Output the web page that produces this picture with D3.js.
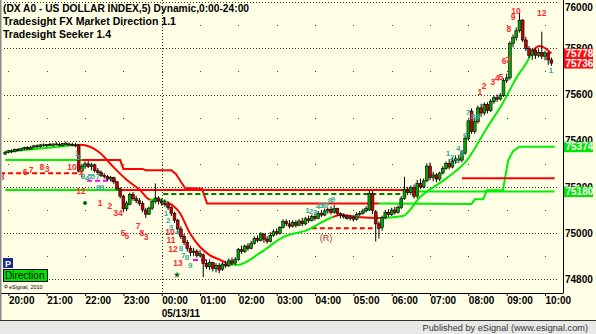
<!DOCTYPE html>
<html>
<head>
<meta charset="utf-8">
<script src="https://cdn.jsdelivr.net/npm/d3@7"></script>
<style>
  body { margin: 0; background: #ffffe6; }
  svg { display: block; font-family: "Liberation Sans", Arial, sans-serif; }
</style>
</head>
<body>
<script>
// ---- data (DX A0, 5 min bars from 19:55) ----
const startTime = new Date(2011, 4, 12, 19, 55);
const endTime = new Date(2011, 4, 13, 10, 10);

const titleLines = [
  '(DX A0 - US DOLLAR INDEX,5) Dynamic,0:00-24:00',
  'Tradesight FX Market Direction 1.1',
  'Tradesight Seeker 1.4'
];

const opens = [
  75342, 75350, 75356, 75352, 75362, 75358, 75366, 75370, 75364, 75372, 75378, 75374,
  75382, 75378, 75384, 75380, 75386, 75384, 75380, 75388, 75386, 75384, 75382, 75378,
  75268, 75290, 75300, 75288, 75296, 75270, 75262, 75250, 75246, 75234, 75240, 75222,
  75192, 75160, 75105, 75125, 75168, 75150, 75140, 75128, 75100, 75082, 75108, 75136,
  75152, 75138, 75130, 75124, 75110, 75086, 75056, 75018, 74986, 74960, 74934, 74916,
  74922, 74904, 74906, 74868, 74854, 74872, 74846, 74860, 74844, 74866, 74858, 74880,
  74870, 74886, 74930, 74920, 74944, 74934, 74956, 74976, 74968, 74996, 74974, 74964,
  74990, 75006, 74998, 75024, 75050, 75040, 75030, 75046, 75034, 75052, 75040, 75062,
  75054, 75072, 75064, 75086, 75078, 75096, 75102, 75090, 75106, 75084, 75076, 75070,
  75064, 75068, 75060, 75082, 75086, 75096, 75100, 75172, 75092, 75040, 75024, 75068,
  75090, 75080, 75100, 75090, 75110, 75150, 75190, 75176, 75196, 75160, 75214, 75200,
  75226, 75290, 75240, 75252, 75234, 75260, 75280, 75302, 75286, 75312, 75322, 75316,
  75346, 75410, 75528, 75440, 75482, 75542, 75520, 75556, 75530, 75570, 75586, 75580,
  75596, 75660, 75672, 75820, 75846, 75876, 75922, 75836, 75800, 75770, 75792, 75770,
  75782, 75766, 75780, 75750
];
const highs = [
  75355, 75360, 75362, 75366, 75368, 75370, 75374, 75376, 75378, 75382, 75384, 75386,
  75388, 75386, 75390, 75388, 75394, 75392, 75390, 75396, 75392, 75392, 75390, 75386,
  75300, 75310, 75312, 75305, 75300, 75282, 75272, 75260, 75252, 75248, 75244, 75226,
  75198, 75166, 75140, 75175, 75178, 75162, 75152, 75138, 75110, 75115, 75142, 75215,
  75160, 75150, 75146, 75136, 75116, 75092, 75062, 75030, 74996, 74970, 74946, 74936,
  74930, 74926, 74912, 74886, 74880, 74876, 74870, 74870, 74876, 74880, 74890, 74894,
  74896, 74936, 74946, 74950, 74956, 74966, 74986, 74990, 75004, 75000, 74986, 75004,
  75016, 75020, 75030, 75060, 75060, 75056, 75056, 75056, 75060, 75066, 75070, 75076,
  75080, 75086, 75096, 75100, 75106, 75110, 75116, 75122, 75110, 75090, 75086, 75080,
  75078, 75076, 75090, 75096, 75106, 75116, 75186, 75182, 75100, 75050, 75076, 75100,
  75104, 75110, 75114, 75120, 75160, 75244, 75200, 75206, 75210, 75230, 75236, 75236,
  75302, 75306, 75266, 75260, 75266, 75290, 75310, 75320, 75330, 75336, 75340, 75360,
  75420, 75492, 75540, 75500, 75552, 75560, 75566, 75566, 75580, 75596, 75600, 75606,
  75670, 75690, 75830, 75860, 75890, 75956, 75926, 75850, 75810, 75800, 75800, 75796,
  75872, 75790, 75786, 75760
];
const lows = [
  75338, 75345, 75346, 75350, 75354, 75355, 75360, 75360, 75362, 75368, 75368, 75370,
  75374, 75372, 75376, 75374, 75380, 75376, 75374, 75382, 75378, 75376, 75372, 75262,
  75240, 75278, 75282, 75272, 75262, 75252, 75242, 75236, 75226, 75224, 75212, 75185,
  75150, 75090, 75095, 75120, 75140, 75130, 75118, 75090, 75065, 75078, 75100, 75128,
  75124, 75118, 75114, 75100, 75074, 75044, 75000, 74974, 74948, 74920, 74900, 74900,
  74894, 74894, 74810, 74844, 74840, 74834, 74830, 74826, 74836, 74850, 74854, 74860,
  74862, 74880, 74910, 74914, 74924, 74930, 74950, 74960, 74964, 74958, 74954, 74960,
  74984, 74990, 74994, 75020, 75030, 75020, 75024, 75024, 75030, 75030, 75034, 75044,
  75050, 75054, 75060, 75070, 75074, 75084, 75080, 75084, 75074, 75064, 75062, 75058,
  75054, 75050, 75054, 75074, 75080, 75090, 75096, 75082, 74964, 74976, 75010, 75060,
  75070, 75074, 75080, 75084, 75104, 75144, 75164, 75166, 75150, 75150, 75190, 75194,
  75220, 75230, 75224, 75220, 75226, 75254, 75274, 75276, 75280, 75300, 75304, 75306,
  75340, 75400, 75430, 75430, 75474, 75504, 75510, 75518, 75524, 75560, 75568, 75574,
  75590, 75650, 75664, 75804, 75834, 75868, 75828, 75788, 75758, 75750, 75754, 75760,
  75754, 75748, 75728, 75724
];
const closes = [
  75350, 75356, 75352, 75362, 75358, 75366, 75370, 75364, 75372, 75378, 75374, 75382,
  75378, 75384, 75380, 75386, 75384, 75380, 75388, 75386, 75384, 75382, 75378, 75268,
  75290, 75300, 75288, 75296, 75270, 75262, 75250, 75246, 75234, 75240, 75222, 75192,
  75160, 75105, 75130, 75168, 75150, 75140, 75128, 75100, 75082, 75108, 75136, 75152,
  75138, 75130, 75124, 75110, 75086, 75056, 75018, 74986, 74960, 74934, 74916, 74922,
  74904, 74912, 74868, 74854, 74872, 74846, 74860, 74840, 74866, 74858, 74880, 74870,
  74886, 74930, 74920, 74944, 74934, 74956, 74976, 74968, 74996, 74974, 74964, 74990,
  75006, 74998, 75024, 75050, 75040, 75030, 75046, 75034, 75052, 75040, 75062, 75054,
  75072, 75064, 75086, 75078, 75096, 75102, 75090, 75106, 75084, 75076, 75070, 75064,
  75068, 75060, 75082, 75086, 75096, 75106, 75172, 75098, 75040, 75020, 75068, 75090,
  75080, 75100, 75090, 75110, 75150, 75190, 75176, 75196, 75160, 75214, 75200, 75226,
  75290, 75240, 75252, 75234, 75260, 75280, 75302, 75286, 75312, 75322, 75316, 75352,
  75410, 75486, 75440, 75482, 75542, 75520, 75556, 75530, 75570, 75586, 75580, 75596,
  75660, 75672, 75820, 75846, 75876, 75922, 75836, 75800, 75770, 75792, 75770, 75782,
  75766, 75780, 75750, 75736
];

// Market Direction average: bar index, value, 1 = up (green) for the stretch that follows
const maBar = [0, 11, 22.5, 23.5, 29.7, 33.8, 38.1, 42.2, 45.3, 48.5, 50.7, 54.7, 57.8, 61, 64, 67.3,
  69.4, 72.6, 79.8, 87, 94.5, 102.6, 105, 110, 117.3, 124.5, 129.9, 138.3, 144.6, 150.8, 155.8,
  160.2, 163.7, 164.6, 167.4, 171];
const maVal = [75352, 75366, 75381, 75382, 75347, 75287, 75230, 75187, 75145, 75143, 75134, 75087,
  75000, 74940, 74905, 74884, 74871, 74862, 74914, 74983, 75013, 75070, 75078, 75070, 75065, 75074,
  75156, 75239, 75316, 75455, 75563, 75676, 75749, 75775, 75810, 75778];
const maUp = [1, 1, 0, 0, 0, 0, 0, 0, 1, 1, 0, 0, 0, 0, 0, 0, 1, 1, 1, 1, 1, 0, 0, 0, 1, 1, 1, 1, 1, 1, 1,
  1, 1, 0, 0, 0];

// Seeker stops: [bar, value, state of the stretch that follows]
const upperStop = [
  [0, 75316, 'g'], [24, 75316, 'r'], [36, 75316, 'r'], [37, 75278, 'r'], [43, 75278, 'r'],
  [44, 75272, 'r'], [52, 75272, 'r'], [53.5, 75255, 'r'], [55, 75222, 'r'], [56.3, 75195, 'r'],
  [61.6, 75192, 'r'], [63.2, 75128, 'r'], [117, 75128, 'g'], [146, 75126, 'g'], [147, 75146, 'g'],
  [149.6, 75146, 'g'], [150.8, 75185, 'g'], [155.8, 75185, 'g'], [157.5, 75316, 'g'],
  [159, 75355, 'g'], [161, 75374, 'g'], [172, 75374, 'g']
];
const lowerStop = [
  [0, 75187, 'g'], [36, 75187, 'r'], [125, 75187, 'g'], [125, 75180, 'g'], [172, 75180, 'g']
];
const redLevels = [[143, 172, 75237]];
const dashGreen = [[49.5, 124.5, 75169]];
const dashRed = [[-1.6, 23.4, 75259], [96, 115, 75021]];
const dashMagenta = [[25.6, 35, 75227], [58.8, 64.2, 74884]];

// count labels: [text, bar, value]
const redCounts = [
  ['3', -1, 75243], ['6', 6.2, 75265], ['7', 8.1, 75275], ['8', 11.5, 75286], ['3', 13.1, 75277],
  ['10', 20.9, 75286], ['1', 23.7, 75265], ['12', 23.7, 75182], ['1', 29.7, 75130], ['2', 32.8, 75117],
  ['34', 35.3, 75087], ['5', 36.9, 75000], ['5', 38.1, 74987], ['7', 41.6, 75031], ['8', 42.8, 75000],
  ['3', 44.1, 74983], ['10', 51.6, 75005], ['11', 51.9, 74970], ['12', 52.5, 74931], ['13', 54.1, 74871],
  ['1', 148.6, 75611], ['2', 149.9, 75637], ['3', 152.7, 75654], ['4', 154, 75671], ['5', 155.2, 75676],
  ['6', 156.2, 75745], ['7', 157.4, 75749], ['8', 157.7, 75883], ['9', 159, 75935], ['10', 159.9, 75961],
  ['12', 168, 75953]
];
const tealCounts = [
  ['1', 22.5, 75347], ['2', 23.1, 75329], ['3', 24.4, 75247], ['4', 25.6, 75239], ['5', 26.5, 75247],
  ['5', 27.5, 75247], ['7', 29, 75247], ['8', 29.1, 75200], ['9', 30.3, 75200],
  ['1', 50.3, 75087], ['2', 51, 75057], ['3', 51.9, 75026], ['4', 53.8, 75005], ['8', 55, 74935],
  ['7', 55.7, 74905], ['8', 56.9, 74896], ['9', 57.9, 74862],
  ['1', 94.6, 75100], ['2', 95.7, 75096], ['3', 97, 75091], ['4', 97.9, 75117], ['5', 98.9, 75122],
  ['6', 99.8, 75122], ['7', 100.8, 75122], ['8', 101.7, 75143], ['9', 102.6, 75148],
  ['1', 138.6, 75347], ['2', 139.9, 75329], ['3', 141.5, 75316], ['4', 141.8, 75368], ['5', 143, 75347],
  ['6', 144, 75425], ['7', 144.9, 75524], ['8', 146.5, 75507], ['9', 148, 75507], ['1', 170.9, 75706]
];
const retraceMark = ['(R)', 100.4, 74979];
const dotMark = [25, 75130];
const starMark = [53.8, 74819];

const priceTicks = [74800, 75000, 75200, 75400, 75600, 75800, 76000];
const redTags = [75778, 75736];
const greenTags = [75374, 75180];

// ---- layout ----
const W = 596, H = 334;
const plotRight = 563, plotBottom = 293;
const cream = '#ffffe6';

const x = d3.scaleTime().domain([startTime, endTime]).range([5.2, 551.4]);
const y = d3.scaleLinear().domain([74800, 76000]).range([279.3, 2.1]);
const xb = i => x(new Date(+startTime + i * 300000));

const svg = d3.select('body').append('svg').attr('width', W).attr('height', H);

svg.append('rect').attr('width', W).attr('height', H).attr('fill', cream);

const defs = svg.append('defs');
defs.append('clipPath').attr('id', 'plot')
  .append('rect').attr('x', 2).attr('y', 0).attr('width', plotRight - 2).attr('height', plotBottom);

// grid
const grid = svg.append('g').attr('clip-path', 'url(#plot)');
grid.selectAll('line.h').data(priceTicks).enter().append('line')
  .attr('x1', 4).attr('x2', 557)
  .attr('y1', d => Math.round(y(d)) + 0.5).attr('y2', d => Math.round(y(d)) + 0.5)
  .attr('stroke', '#333').attr('stroke-dasharray', '1,2');

const hours = d3.timeHour.every(1).range(startTime, endTime);
const midLevels = [74900, 75100, 75300, 75500, 75700, 75900];
const dotData = [];
hours.forEach(h => midLevels.forEach(p => dotData.push([h, p])));
grid.selectAll('rect.dot').data(dotData).enter().append('rect')
  .attr('x', d => Math.round(x(d[0]))).attr('y', d => Math.round(y(d[1])))
  .attr('width', 1).attr('height', 1).attr('fill', '#444');

// day separator
const midnight = new Date(2011, 4, 13, 0, 0);
grid.append('line')
  .attr('x1', Math.round(x(midnight)) + 0.5).attr('x2', Math.round(x(midnight)) + 0.5)
  .attr('y1', 0).attr('y2', plotBottom)
  .attr('stroke', '#333').attr('stroke-dasharray', '1,2');

// titles
const titleWidths = [246, 173, 108];
svg.selectAll('text.title').data(titleLines).enter().append('text')
  .attr('x', 3).attr('y', (d, i) => 11.5 + i * 13)
  .attr('font-size', 11).attr('font-weight', 'bold').attr('fill', '#000')
  .attr('textLength', (d, i) => titleWidths[i]).attr('lengthAdjust', 'spacingAndGlyphs')
  .text(d => d);

const layer = svg.append('g').attr('clip-path', 'url(#plot)');
const colorOf = s => (s === 'g' || s === 1) ? '#00f000' : '#ff0000';

// solid stop lines
function drawStops(points) {
  let run = [points[0]];
  for (let k = 1; k < points.length; k++) {
    run.push(points[k]);
    const nextState = points[k][2];
    if (nextState !== run[0][2] || k === points.length - 1) {
      layer.append('path')
        .attr('d', d3.line().x(d => xb(d[0])).y(d => y(d[1]))(run))
        .attr('fill', 'none').attr('stroke', colorOf(run[0][2])).attr('stroke-width', 2);
      run = [points[k]];
    }
  }
}
drawStops(lowerStop);
drawStops(upperStop);

layer.selectAll('line.lvl').data(redLevels).enter().append('line')
  .attr('x1', d => xb(d[0])).attr('x2', d => xb(d[1]))
  .attr('y1', d => y(d[2])).attr('y2', d => y(d[2]))
  .attr('stroke', '#ff0000').attr('stroke-width', 2);

function drawDashes(list, color) {
  layer.selectAll(null).data(list).enter().append('line')
    .attr('x1', d => xb(d[0])).attr('x2', d => xb(d[1]))
    .attr('y1', d => y(d[2])).attr('y2', d => y(d[2]))
    .attr('stroke', color).attr('stroke-width', 2).attr('stroke-dasharray', '5,3');
}
drawDashes(dashGreen, '#007a00');
drawDashes(dashRed, '#ff0000');
drawDashes(dashMagenta, '#ff00ff');

// market direction curve, split by state with clip rects
const maPts = maBar.map((b, k) => [b, maVal[k]]);
const maPath = d3.line().x(d => xb(d[0])).y(d => y(d[1])).curve(d3.curveMonotoneX)(maPts);
let runStart = 0;
for (let k = 1; k < maBar.length; k++) {
  if (k === maBar.length - 1 || maUp[k] !== maUp[runStart]) {
    const id = 'ma' + k;
    const x0 = runStart === 0 ? 0 : xb(maBar[runStart]);
    const x1 = k === maBar.length - 1 ? W : xb(maBar[k]);
    defs.append('clipPath').attr('id', id)
      .append('rect').attr('x', x0).attr('y', 0).attr('width', x1 - x0).attr('height', plotBottom);
    layer.append('path').attr('d', maPath).attr('clip-path', `url(#${id})`)
      .attr('fill', 'none').attr('stroke', colorOf(maUp[runStart])).attr('stroke-width', 2);
    runStart = k;
  }
}

// candles
const bars = closes.map((c, i) => ({ i, o: opens[i], h: highs[i], l: lows[i], c }));
const candle = layer.selectAll('g.bar').data(bars).enter().append('g');
candle.append('line')
  .attr('x1', d => xb(d.i)).attr('x2', d => xb(d.i))
  .attr('y1', d => y(d.h)).attr('y2', d => y(d.l))
  .attr('stroke', '#000').attr('stroke-width', 1);
candle.append('rect')
  .attr('x', d => xb(d.i) - 1.4).attr('width', 2.8)
  .attr('y', d => y(Math.max(d.o, d.c)))
  .attr('height', d => Math.max(1, Math.abs(y(d.o) - y(d.c))))
  .attr('fill', d => d.c >= d.o ? '#00a800' : '#c80000')
  .attr('stroke', '#000').attr('stroke-width', 0.6);

// count labels
layer.selectAll('text.rc').data(redCounts).enter().append('text')
  .attr('x', d => xb(d[1])).attr('y', d => y(d[2])).attr('dy', '0.35em')
  .attr('text-anchor', 'middle').attr('font-size', 8.5).attr('font-weight', 'bold')
  .attr('fill', '#ff2a2a').text(d => d[0]);
layer.selectAll('text.tc').data(tealCounts).enter().append('text')
  .attr('x', d => xb(d[1])).attr('y', d => y(d[2])).attr('dy', '0.35em')
  .attr('text-anchor', 'middle').attr('font-size', 8).attr('font-weight', 'bold')
  .attr('fill', '#3aa89a').text(d => d[0]);
layer.append('text')
  .attr('x', xb(retraceMark[1])).attr('y', y(retraceMark[2])).attr('dy', '0.35em')
  .attr('text-anchor', 'middle').attr('font-size', 9).attr('fill', '#b02828').text(retraceMark[0]);
layer.append('circle')
  .attr('cx', xb(dotMark[0])).attr('cy', y(dotMark[1])).attr('r', 2).attr('fill', '#006a00');
layer.append('path')
  .attr('d', d3.symbol(d3.symbolStar, 14)())
  .attr('transform', `translate(${xb(starMark[0])},${y(starMark[1])})`).attr('fill', '#006a00');

// frame
svg.append('line').attr('x1', plotRight + 0.5).attr('x2', plotRight + 0.5).attr('y1', 0).attr('y2', plotBottom)
  .attr('stroke', '#000');
svg.append('line').attr('x1', 0).attr('x2', plotRight + 0.5).attr('y1', plotBottom + 0.5).attr('y2', plotBottom + 0.5)
  .attr('stroke', '#000');
svg.append('rect').attr('x', 0).attr('y', 0).attr('width', 1.5).attr('height', 320).attr('fill', '#8a8a8a');

// time axis
const xAxis = svg.append('g').attr('transform', `translate(0,${plotBottom})`)
  .call(d3.axisBottom(x).ticks(d3.timeHour.every(1)).tickFormat(d3.timeFormat('%H:%M'))
    .tickSize(3).tickSizeOuter(0));
xAxis.select('.domain').remove();
xAxis.selectAll('.tick line').attr('stroke', '#000');
xAxis.selectAll('.tick text')
  .attr('text-anchor', 'start').attr('y', 10.5).attr('dy', null)
  .attr('font-size', 10).attr('font-weight', 'bold').attr('font-family', '"Liberation Sans", Arial, sans-serif')
  .attr('fill', '#000');
svg.append('text').attr('x', x(midnight)).attr('y', 317)
  .attr('font-size', 10).attr('font-weight', 'bold').text(d3.timeFormat('%m/%d/%y')(midnight));

// price axis
const yAxis = svg.append('g').attr('transform', `translate(${plotRight},0)`)
  .call(d3.axisRight(y).tickValues(priceTicks).tickFormat(d3.format('d')).tickSize(0).tickPadding(2));
yAxis.select('.domain').remove();
yAxis.selectAll('.tick text')
  .attr('font-size', 10).attr('font-weight', 'bold').attr('font-family', '"Liberation Sans", Arial, sans-serif')
  .attr('fill', '#000');
yAxis.selectAll('.tick').filter(d => y(d) < 7).select('text').attr('y', 7 - y(76000));

function drawTags(values, fill) {
  const g = svg.selectAll(null).data(values).enter().append('g')
    .attr('transform', d => `translate(${plotRight + 1},${y(d) - 5})`);
  g.append('rect').attr('width', 29).attr('height', 10.5).attr('fill', fill);
  g.append('text').attr('x', 1.5).attr('y', 8.7)
    .attr('font-size', 10).attr('font-weight', 'bold').attr('fill', '#fff').text(d => d);
}
drawTags(redTags, '#ff1010');
drawTags(greenTags, '#00e400');

// bottom badges
svg.append('rect').attr('x', 3).attr('y', 258).attr('width', 10).attr('height', 10).attr('fill', '#1c2a86');
svg.append('text').attr('x', 5).attr('y', 266.5).attr('font-size', 9).attr('font-weight', 'bold')
  .attr('fill', '#fff').text('P');
svg.append('rect').attr('x', 3.5).attr('y', 269.5).attr('width', 44).attr('height', 12)
  .attr('fill', '#00e000').attr('stroke', '#000');
svg.append('text').attr('x', 5).attr('y', 279).attr('font-size', 10).attr('fill', '#000').text('Direction');
svg.append('circle').attr('cx', 6).attr('cy', 286.5).attr('r', 1.3).attr('fill', 'none').attr('stroke', '#000').attr('stroke-width', 0.7);
svg.append('text').attr('x', 9).attr('y', 288.5).attr('font-size', 5.5).attr('fill', '#000').text('eSignal, 2010');

// footer strip
svg.append('rect').attr('x', 0).attr('y', 320).attr('width', W).attr('height', H - 320).attr('fill', '#e8e8e6');
svg.append('line').attr('x1', 0).attr('x2', W).attr('y1', 320.5).attr('y2', 320.5).attr('stroke', '#333').attr('stroke-width', 1.2);
svg.append('text').attr('x', 588).attr('y', 330.5).attr('text-anchor', 'end')
  .attr('font-size', 9.2).attr('fill', '#333').text('Published by eSignal (www.esignal.com)');
</script>
</body>
</html>
